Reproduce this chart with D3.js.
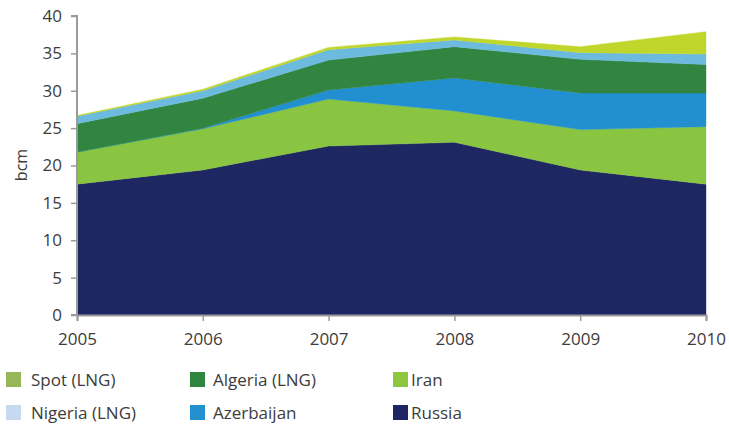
<!DOCTYPE html>
<html>
<head>
<meta charset="utf-8">
<script src="https://cdn.jsdelivr.net/npm/d3@7"></script>
<style>
  html, body { margin: 0; padding: 0; background: #fff; }
  svg { display: block; font-family: "Open Sans", "DejaVu Sans", sans-serif; }
</style>
</head>
<body>
<svg id="chart" width="729" height="429"></svg>
<script>
// Gas supply by source, bcm
const years = [2005, 2006, 2007, 2008, 2009, 2010];
const russia     = [17.5, 19.4, 22.6, 23.1, 19.4, 17.5];
const iran       = [4.3, 5.5, 6.3, 4.2, 5.4, 7.7];
const azerbaijan = [0.0, 0.1, 1.2, 4.4, 4.9, 4.5];
const algeria    = [3.8, 4.0, 4.0, 4.2, 4.5, 3.8];
const nigeria    = [1.0, 1.0, 1.4, 0.9, 0.9, 1.4];
const spot       = [0.1, 0.2, 0.3, 0.4, 0.8, 3.0];
const yTicks = [0, 5, 10, 15, 20, 25, 30, 35, 40];

// Stack order, bottom to top, with area fill and legend swatch colours
const series = [
  { key: "Russia",        values: russia,     fill: "#1e2761", swatch: "#1f2462" },
  { key: "Iran",          values: iran,       fill: "#89c541", swatch: "#8dc63f" },
  { key: "Azerbaijan",    values: azerbaijan, fill: "#2290d0", swatch: "#2391d0" },
  { key: "Algeria (LNG)", values: algeria,    fill: "#318540", swatch: "#2e8540" },
  { key: "Nigeria (LNG)", values: nigeria,    fill: "#6dbadf", swatch: "#c6d9f0" },
  { key: "Spot (LNG)",    values: spot,       fill: "#c0d62a", swatch: "#97b65a" }
];

const rows = years.map((yr, i) => {
  const r = { year: yr };
  series.forEach(s => r[s.key] = s.values[i]);
  return r;
});

const svg = d3.select("#chart");
const plot = { left: 77, right: 706, top: 16, bottom: 315 };

const x = d3.scaleLinear().domain([2005, 2010]).range([plot.left, plot.right]);
const y = d3.scaleLinear().domain([0, 40]).range([plot.bottom, plot.top]);

const stack = d3.stack().keys(series.map(s => s.key));
const layers = stack(rows);

const area = d3.area()
  .x(d => x(d.data.year))
  .y0(d => y(d[0]))
  .y1(d => y(d[1]));

svg.append("g")
  .selectAll("path")
  .data(layers)
  .join("path")
  .attr("d", area)
  .attr("fill", (d, i) => series[i].fill)
  .attr("stroke", (d, i) => series[i].fill)
  .attr("stroke-width", 0.4);

// Axes
const axisColor = "#9a9a9a";
const textColor = "#3c3c3c";

const yAxis = svg.append("g")
  .attr("transform", `translate(${plot.left},0)`)
  .call(d3.axisLeft(y).tickValues(yTicks).tickSize(6).tickPadding(9).tickFormat(d3.format("d")));

const xAxis = svg.append("g")
  .attr("transform", `translate(0,${plot.bottom})`)
  .call(d3.axisBottom(x).tickValues(years).tickSize(6).tickPadding(12).tickFormat(d3.format("d")));

[yAxis, xAxis].forEach(g => {
  g.select(".domain").attr("stroke", axisColor).attr("stroke-width", 2);
  g.selectAll(".tick line").attr("stroke", axisColor).attr("stroke-width", 1.5);
  g.selectAll(".tick text")
    .attr("fill", textColor)
    .style("font-size", "17px")
    .style("font-family", "'Open Sans', 'DejaVu Sans', sans-serif");
});
yAxis.select(".domain").attr("d", `M-6,${plot.top}H0V${plot.bottom}H-6`);

svg.append("text")
  .attr("transform", `translate(27,165) rotate(-90)`)
  .attr("text-anchor", "middle")
  .attr("fill", textColor)
  .style("font-size", "16px")
  .text("bcm");

// Legend, two rows of three
const legendOrder = ["Spot (LNG)", "Algeria (LNG)", "Iran", "Nigeria (LNG)", "Azerbaijan", "Russia"];
const colX = [6, 190, 393];
const textX = [31, 213, 411];
const rowY = [380, 413];

const legend = svg.append("g");
legendOrder.forEach((k, i) => {
  const s = series.find(d => d.key === k);
  const c = i % 3, r = Math.floor(i / 3);
  legend.append("rect")
    .attr("x", colX[c]).attr("y", rowY[r] - 8)
    .attr("width", 15).attr("height", 15)
    .attr("fill", s.swatch);
  legend.append("text")
    .attr("x", textX[c]).attr("y", rowY[r])
    .attr("dy", "0.35em")
    .attr("fill", textColor)
    .style("font-size", "17px")
    .text(k);
});
</script>
</body>
</html>
